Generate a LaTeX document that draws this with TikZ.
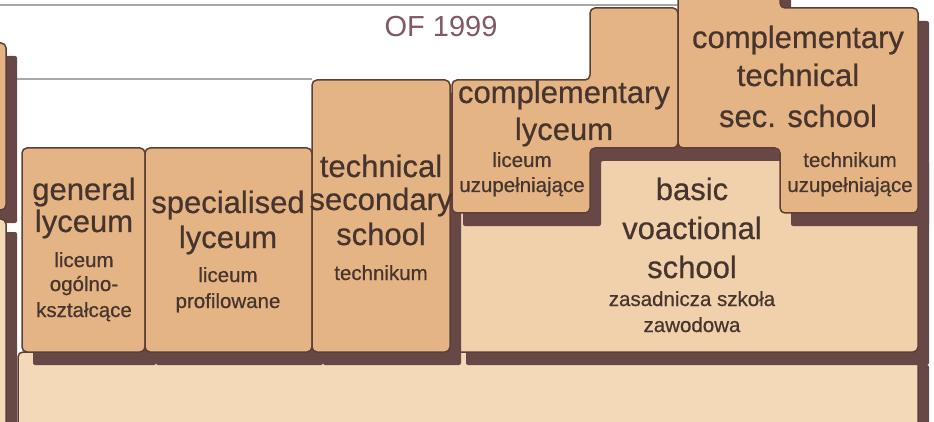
\documentclass[tikz,border=0pt]{standalone}
\usepackage{fontspec}
\setmainfont{Liberation Sans}
\newfontfamily\heavyfont{Liberation Sans}[FakeBold=0.6]
\definecolor{tanc}{HTML}{E4B484}
\definecolor{lightc}{HTML}{F1D0AC}
\definecolor{bottomc}{HTML}{F3D9B8}
\definecolor{shadowc}{HTML}{684846}
\definecolor{edgec}{HTML}{5C4036}
\definecolor{txtc}{HTML}{46352E}
\definecolor{mauvec}{HTML}{7E5A64}
\definecolor{greyc}{HTML}{A8A8A8}
\tikzset{
  shadowfill/.style={fill=shadowc, draw=none, rounded corners=2pt, shift={(11,13)}},
  tanbox/.style={fill=tanc, draw=edgec, line width=1.5pt, rounded corners=5pt},
  lightbox/.style={fill=lightc, draw=edgec, line width=1.5pt, rounded corners=5pt},
  bottombox/.style={fill=bottomc, draw=edgec, line width=1.5pt, rounded corners=5pt},
  greyline/.style={draw=greyc, line width=2pt},
  bigtxt/.style={anchor=base, text=txtc, inner sep=0pt, font=\heavyfont\fontsize{31}{34}\selectfont},
  smalltxt/.style={anchor=base, text=txtc, inner sep=0pt, font=\heavyfont\fontsize{20.5}{24}\selectfont},
  titletxt/.style={anchor=base, text=mauvec, inner sep=0pt, font=\fontsize{29}{34}\selectfont},
}
\begin{document}
\begin{tikzpicture}[x=1pt,y=-1pt]
\useasboundingbox (0,0) rectangle (934,422);
\clip (0,0) rectangle (934,422);
\fill[white] (0,0) rectangle (934,422);
% grey rules
\draw[greyline] (0,5) -- (678,5);
\draw[greyline] (16,79) -- (312,79);
% bottom big box
\path[shadowfill] (18,352) rectangle (918,450);
\path[bottombox] (18,352) rectangle (918,450);
% left boxes (cut by the frame)
\path[shadowfill] (-20,43) rectangle (6,210);
\path[tanbox] (-20,43) rectangle (6,210);
\path[shadowfill] (-20,219) rectangle (6,450);
\path[bottombox] (-20,219) rectangle (6,450);
% basic vocational school
\path[shadowfill] (455,148) rectangle (918,352);
\path[lightbox] (455,148) rectangle (918,352);
% general lyceum
\path[shadowfill] (22,148) rectangle (145,352);
\path[tanbox] (22,148) rectangle (145,352);
% specialised lyceum
\path[shadowfill] (145,148) rectangle (312,352);
\path[tanbox] (145,148) rectangle (312,352);
% technical secondary school
\path[shadowfill] (312,80) rectangle (450,352);
\path[tanbox] (312,80) rectangle (450,352);
% shared shadow of the two complementary schools
\path[shadowfill] (452,80) -- (590,80) -- (590,8) -- (678,8) -- (678,-20) -- (780,-20) -- (780,8) -- (918,8) -- (918,213) -- (780,213) -- (780,148) -- (590,148) -- (590,213) -- (452,213) -- cycle;
% complementary lyceum
\path[tanbox] (452,80) -- (590,80) -- (590,8) -- (678,8) -- (678,148) -- (590,148) -- (590,213) -- (452,213) -- cycle;
% complementary technical secondary school
\path[tanbox] (678,-20) -- (780,-20) -- (780,8) -- (918,8) -- (918,213) -- (780,213) -- (780,148) -- (678,148) -- cycle;
% title
\node[titletxt] (t1) at (441,37) {OF 1999};
% general lyceum text
\node[bigtxt] (g1) at (84,200) {general};
\node[bigtxt] (g2) at (84,232) {lyceum};
\node[smalltxt] (g3) at (84,267) {liceum};
\node[smalltxt] (g4) at (84,291) {ogólno-};
\node[smalltxt] (g5) at (84,317) {kształcące};
% specialised lyceum text
\node[bigtxt] (s1) at (228,213) {specialised};
\node[bigtxt] (s2) at (228,248) {lyceum};
\node[smalltxt] (s3) at (228,282) {liceum};
\node[smalltxt] (s4) at (228,308) {profilowane};
% technical secondary school text
\node[bigtxt] (h1) at (381,177) {technical};
\node[bigtxt] (h2) at (381,210) {secondary};
\node[bigtxt] (h3) at (381,245) {school};
\node[smalltxt] (h4) at (381,280) {technikum};
% complementary lyceum text
\node[bigtxt] (c1) at (564,103) {complementary};
\node[bigtxt] (c2) at (564,140) {lyceum};
\node[smalltxt] (c3) at (522,167) {liceum};
\node[smalltxt] (c4) at (522,192) {uzupełniające};
% complementary technical sec. school text
\node[bigtxt] (k1) at (798,48) {complementary};
\node[bigtxt] (k2) at (798,86) {technical};
\node[bigtxt] (k3) at (798,127) {sec. school};
\node[smalltxt] (k4) at (850,167) {technikum};
\node[smalltxt] (k5) at (850,192) {uzupełniające};
% basic vocational school text
\node[bigtxt] (b1) at (692,200) {basic};
\node[bigtxt] (b2) at (692,239) {voactional};
\node[bigtxt] (b3) at (692,278) {school};
\node[smalltxt] (b4) at (692,306) {zasadnicza szkoła};
\node[smalltxt] (b5) at (692,332) {zawodowa};
\end{tikzpicture}
\end{document}
